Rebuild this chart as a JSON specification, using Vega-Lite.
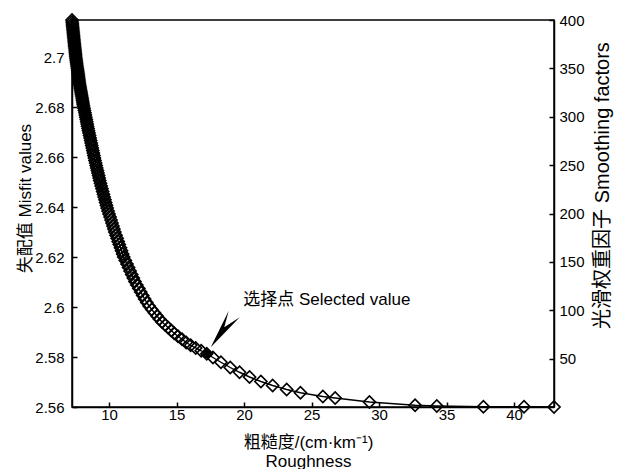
{
  "$schema": "https://vega.github.io/schema/vega-lite/v6.json",
  "width": 482,
  "height": 387,
  "autosize": {"type": "none"},
  "padding": {"left": 72, "top": 20, "right": 65, "bottom": 62},
  "background": "white",
  "datasets": {
    "curve": [
      {"x":7.26,"y":2.7148},{"x":7.27,"y":2.714},{"x":7.29,"y":2.7132},{"x":7.3,"y":2.7124},{"x":7.32,"y":2.7116},{"x":7.33,"y":2.7108},{"x":7.35,"y":2.71},{"x":7.36,"y":2.7092},{"x":7.38,"y":2.7084},{"x":7.39,"y":2.7076},{"x":7.41,"y":2.7068},{"x":7.42,"y":2.706},{"x":7.44,"y":2.7052},{"x":7.45,"y":2.7044},{"x":7.47,"y":2.7036},{"x":7.49,"y":2.7028},{"x":7.5,"y":2.702},{"x":7.52,"y":2.7012},{"x":7.53,"y":2.7004},
      {"x":7.55,"y":2.6996},{"x":7.57,"y":2.6988},{"x":7.59,"y":2.698},{"x":7.61,"y":2.6972},{"x":7.63,"y":2.6964},{"x":7.65,"y":2.6956},{"x":7.68,"y":2.6948},{"x":7.7,"y":2.694},{"x":7.72,"y":2.6932},{"x":7.74,"y":2.6924},{"x":7.76,"y":2.6916},{"x":7.78,"y":2.6908},{"x":7.8,"y":2.69},
      {"x":7.82,"y":2.6892},{"x":7.85,"y":2.6884},{"x":7.87,"y":2.6876},{"x":7.9,"y":2.6868},{"x":7.93,"y":2.686},{"x":7.95,"y":2.6852},{"x":7.98,"y":2.6844},{"x":8.01,"y":2.6836},{"x":8.03,"y":2.6828},{"x":8.06,"y":2.682},{"x":8.08,"y":2.6812},{"x":8.11,"y":2.6804},
      {"x":8.15,"y":2.6795},{"x":8.18,"y":2.6786},{"x":8.22,"y":2.6777},{"x":8.25,"y":2.6768},{"x":8.28,"y":2.6759},{"x":8.32,"y":2.675},{"x":8.35,"y":2.6741},{"x":8.38,"y":2.6732},{"x":8.41,"y":2.6723},{"x":8.45,"y":2.6714},{"x":8.48,"y":2.6705},
      {"x":8.52,"y":2.6696},{"x":8.56,"y":2.6686},{"x":8.6,"y":2.6676},{"x":8.64,"y":2.6666},{"x":8.68,"y":2.6656},{"x":8.72,"y":2.6646},{"x":8.76,"y":2.6636},{"x":8.8,"y":2.6626},{"x":8.84,"y":2.6616},{"x":8.88,"y":2.6606},
      {"x":8.92,"y":2.6596},{"x":8.96,"y":2.6586},{"x":9.01,"y":2.6576},{"x":9.05,"y":2.6566},{"x":9.09,"y":2.6556},{"x":9.14,"y":2.6546},{"x":9.18,"y":2.6536},{"x":9.23,"y":2.6526},{"x":9.27,"y":2.6516},{"x":9.31,"y":2.6506},
      {"x":9.37,"y":2.6495},{"x":9.42,"y":2.6484},{"x":9.48,"y":2.6473},{"x":9.53,"y":2.6462},{"x":9.59,"y":2.6451},{"x":9.64,"y":2.644},{"x":9.7,"y":2.6429},{"x":9.75,"y":2.6418},{"x":9.81,"y":2.6407},
      {"x":9.86,"y":2.6396},{"x":9.93,"y":2.6384},{"x":10.0,"y":2.6372},{"x":10.08,"y":2.636},{"x":10.15,"y":2.6348},{"x":10.22,"y":2.6336},{"x":10.29,"y":2.6324},{"x":10.36,"y":2.6312},
      {"x":10.43,"y":2.63},{"x":10.52,"y":2.6287},{"x":10.6,"y":2.6275},{"x":10.68,"y":2.6262},{"x":10.76,"y":2.625},{"x":10.85,"y":2.6237},{"x":10.93,"y":2.6225},{"x":11.01,"y":2.6212},
      {"x":11.09,"y":2.62},{"x":11.21,"y":2.6186},{"x":11.33,"y":2.6172},{"x":11.45,"y":2.6158},{"x":11.56,"y":2.6144},{"x":11.68,"y":2.613},{"x":11.8,"y":2.6116},
      {"x":11.92,"y":2.6102},{"x":12.06,"y":2.6088},{"x":12.21,"y":2.6074},{"x":12.35,"y":2.606},{"x":12.5,"y":2.6046},{"x":12.64,"y":2.6032},{"x":12.8,"y":2.6018},{"x":12.97,"y":2.6004},
      {"x":13.17,"y":2.599},{"x":13.36,"y":2.5977},{"x":13.56,"y":2.5964},{"x":13.73,"y":2.5952},{"x":13.93,"y":2.594},{"x":14.17,"y":2.5928},{"x":14.39,"y":2.5917},{"x":14.61,"y":2.5906},{"x":14.83,"y":2.5895},
      {"x":15.11,"y":2.5883},{"x":15.41,"y":2.5871},{"x":15.72,"y":2.5858},{"x":16.05,"y":2.5847},{"x":16.42,"y":2.5836},{"x":16.83,"y":2.5825},{"x":17.24,"y":2.5813},
      {"x":17.7,"y":2.5798},{"x":18.29,"y":2.5779},{"x":18.98,"y":2.5758},{"x":19.67,"y":2.5739},{"x":20.41,"y":2.572},{"x":21.25,"y":2.5702},{"x":22.12,"y":2.5686},{"x":23.16,"y":2.567},{"x":24.18,"y":2.5657},{"x":25.84,"y":2.5642},{"x":26.75,"y":2.5636},{"x":29.29,"y":2.562},{"x":32.67,"y":2.5607},{"x":34.28,"y":2.5604},{"x":37.73,"y":2.5601},{"x":40.74,"y":2.5601},{"x":42.96,"y":2.56}
    ],
    "selected": [{"x": 17.24, "y": 2.5813}],
    "note": [{"x": 19.94, "y": 2.6027, "label": "选择点 Selected value"}],
    "smooth": [{"s": 0}, {"s": 400}]
  },
  "config": {
    "view": {"stroke": "black", "strokeWidth": 1.5},
    "font": "Liberation Sans, Noto Sans CJK SC",
    "axis": {
      "grid": false,
      "domainColor": "black",
      "domainWidth": 1.5,
      "tickColor": "black",
      "tickWidth": 1.5,
      "tickSize": -5,
      "labelColor": "black",
      "labelFont": "Liberation Sans, Noto Sans CJK SC",
      "labelFontSize": 15,
      "labelFlush": false,
      "labelOverlap": false,
      "titleColor": "black",
      "titleFont": "Liberation Sans, Noto Sans CJK SC",
      "titleFontSize": 17,
      "titleFontWeight": "normal"
    }
  },
  "layer": [
    {
      "layer": [
        {
          "data": {"name": "curve"},
          "mark": {"type": "line", "color": "black", "strokeWidth": 1.4},
          "encoding": {
            "x": {"field": "x", "type": "quantitative", "scale": {"domain": [7.26, 42.96], "nice": false, "zero": false},
              "axis": {"values": [10, 15, 20, 25, 30, 35, 40], "title": ["粗糙度/(cm·km⁻¹)", "Roughness"], "titleX": 236, "titleY": 40, "titleAlign": "center", "titleBaseline": "alphabetic", "titleLineHeight": 19, "labelPadding": 5}},
            "y": {"field": "y", "type": "quantitative", "scale": {"domain": [2.56, 2.7148], "nice": false, "zero": false},
              "axis": {"orient": "left", "values": [2.56, 2.58, 2.6, 2.62, 2.64, 2.66, 2.68, 2.7], "format": ".2~f", "title": "失配值 Misfit values", "titleX": -47, "titleY": 178, "titleAngle": -90, "titleAlign": "center", "titleBaseline": "middle", "labelPadding": 13}}
          }
        },
        {
          "data": {"name": "curve"},
          "mark": {"type": "point", "shape": "diamond", "size": 144, "filled": false, "color": "black", "strokeWidth": 1.7, "opacity": 1},
          "encoding": {
            "x": {"field": "x", "type": "quantitative"},
            "y": {"field": "y", "type": "quantitative"}
          }
        },
        {
          "data": {"name": "selected"},
          "mark": {"type": "point", "shape": "circle", "size": 85, "filled": true, "color": "black", "opacity": 1},
          "encoding": {
            "x": {"field": "x", "type": "quantitative"},
            "y": {"field": "y", "type": "quantitative"}
          }
        },
        {
          "data": {"name": "selected"},
          "mark": {"type": "point", "shape": "M0.2,-0.325L1.1,-2.15L0.875,-1.325L1.65,-1.825Z", "size": 1600, "filled": true, "color": "black", "opacity": 1, "strokeWidth": 0},
          "encoding": {
            "x": {"field": "x", "type": "quantitative"},
            "y": {"field": "y", "type": "quantitative"}
          }
        },
        {
          "data": {"name": "note"},
          "mark": {"type": "text", "align": "left", "baseline": "middle", "fontSize": 17, "color": "black", "font": "Liberation Sans, Noto Sans CJK SC"},
          "encoding": {
            "x": {"field": "x", "type": "quantitative"},
            "y": {"field": "y", "type": "quantitative"},
            "text": {"field": "label"}
          }
        }
      ]
    },
    {
      "data": {"name": "smooth"},
      "mark": {"type": "point", "opacity": 0},
      "encoding": {
        "y": {"field": "s", "type": "quantitative", "scale": {"domain": [0, 400], "nice": false, "zero": false},
          "axis": {"orient": "right", "values": [50, 100, 150, 200, 250, 300, 350, 400], "title": "光滑权重因子 Smoothing factors", "titleFontSize": 20, "titleAngle": -90, "titleX": 48, "titleY": 165, "titleAlign": "center", "titleBaseline": "middle", "labelPadding": 10}}
      }
    }
  ],
  "resolve": {"scale": {"y": "independent"}, "axis": {"y": "independent"}}
}
